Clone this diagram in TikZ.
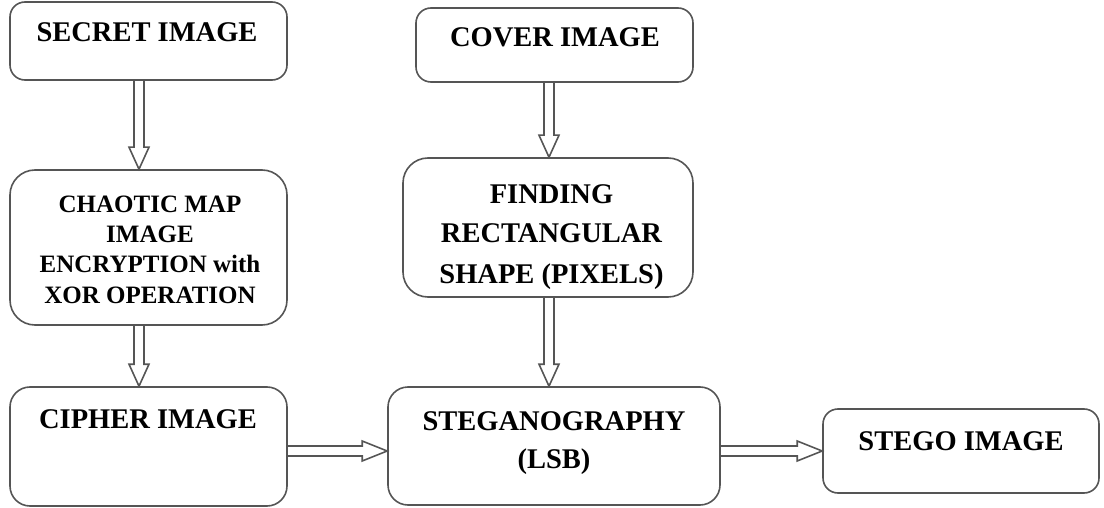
\documentclass[tikz,border=0pt]{standalone}
\usepackage{fontspec}
\setmainfont{Liberation Serif}
\usetikzlibrary{calc}
\definecolor{edge}{HTML}{555555}
\tikzset{
  box/.style={draw=edge, line width=1.6pt, fill=white, inner sep=0pt},
  lbl/.style={font=\fontsize{28.5}{40}\selectfont\bfseries, anchor=base, inner sep=0pt, align=center},
  smalllbl/.style={font=\fontsize{25}{30.3}\selectfont\bfseries, anchor=base, inner sep=0pt, align=center},
  flowarrow/.style={draw=edge, line width=1.6pt, line join=miter}
}
\newcommand{\vflow}[3]{%
  \draw[flowarrow] let \p1=(#2.south), \p2=(#3.north) in
   ({#1-5pt},\y1) -- ({#1-5pt},{\y2+22pt}) -- ({#1-10pt},{\y2+22pt}) -- (#1,\y2)
   -- ({#1+10pt},{\y2+22pt}) -- ({#1+5pt},{\y2+22pt}) -- ({#1+5pt},\y1);}
\newcommand{\hflow}[3]{%
  \draw[flowarrow] let \p1=(#2.east), \p2=(#3.west) in
   (\x1,{#1+5pt}) -- ({\x2-25pt},{#1+5pt}) -- ({\x2-25pt},{#1+10pt}) -- (\x2,#1)
   -- ({\x2-25pt},{#1-10pt}) -- ({\x2-25pt},{#1-5pt}) -- (\x1,{#1-5pt});}
\begin{document}
\begin{tikzpicture}[x=1pt,y=-1pt]
\useasboundingbox (0,0) rectangle (1104,508);
% boxes
\node[box, rounded corners=15pt, minimum width=277pt, minimum height=78pt] (sec) at (148.5,41) {};
\node[box, rounded corners=25pt, minimum width=277pt, minimum height=155pt] (chao) at (148.5,247.5) {};
\node[box, rounded corners=20pt, minimum width=277pt, minimum height=119pt] (cip) at (148.5,446.5) {};
\node[box, rounded corners=15pt, minimum width=277pt, minimum height=74pt] (cov) at (554.5,45) {};
\node[box, rounded corners=25pt, minimum width=290pt, minimum height=139pt] (fin) at (548,227.5) {};
\node[box, rounded corners=20pt, minimum width=332pt, minimum height=118pt] (steg) at (554,446) {};
\node[box, rounded corners=15pt, minimum width=276pt, minimum height=84pt] (stego) at (961,451) {};
% labels (base anchor = baseline of the last line)
\node[lbl] (sect) at (147,42) {SECRET IMAGE};
\node[smalllbl] (chaot) at (150,303) {CHAOTIC MAP\\IMAGE\\ENCRYPTION with\\XOR OPERATION};
\node[lbl] (cipt) at (148,428) {CIPHER IMAGE};
\node[lbl] (covt) at (555,47) {COVER IMAGE};
\node[lbl] (fint) at (551.5,283) {FINDING\\RECTANGULAR\\SHAPE (PIXELS)};
\node[lbl, font=\fontsize{28.5}{38}\selectfont\bfseries] (stegt) at (554,468) {STEGANOGRAPHY\\(LSB)};
\node[lbl] (stegot) at (961,450) {STEGO IMAGE};
% connectors
\vflow{139pt}{sec}{chao}
\vflow{139pt}{chao}{cip}
\vflow{549pt}{cov}{fin}
\vflow{549pt}{fin}{steg}
\hflow{-451pt}{cip}{steg}
\hflow{-451pt}{steg}{stego}
\end{tikzpicture}
\end{document}
